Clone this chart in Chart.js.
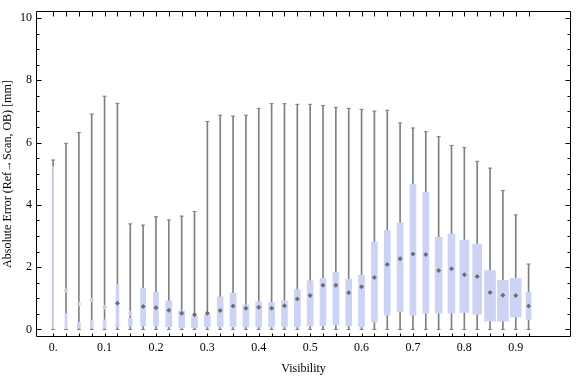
<!DOCTYPE html>
<html>
<head>
<meta charset="utf-8">
<script src="https://cdn.jsdelivr.net/npm/chart.js@4"></script>
<style>
  html, body { margin: 0; padding: 0; background: #fff; }
</style>
</head>
<body>
<canvas id="chart" width="576" height="377"></canvas>
<script>
// box-whisker data per visibility bin
const visibility = [0, 0.025, 0.05, 0.075, 0.1, 0.125, 0.15, 0.175, 0.2, 0.225,
  0.25, 0.275, 0.3, 0.325, 0.35, 0.375, 0.4, 0.425, 0.45, 0.475,
  0.5, 0.525, 0.55, 0.575, 0.6, 0.625, 0.65, 0.675, 0.7, 0.725,
  0.75, 0.775, 0.8, 0.825, 0.85, 0.875, 0.9, 0.925];
const minErr = [0, 0, 0, 0, 0, 0, 0, 0, 0, 0,
  0, 0, 0, 0, 0, 0, 0, 0, 0, 0,
  0, 0, 0, 0, 0, 0, 0, 0, 0, 0,
  0, 0, 0, 0, 0, 0, 0, 0];
const q1Err = [0, 0.02, 0.04, 0.04, 0.04, 0.08, 0.11, 0.11, 0.11, 0.08,
  0.05, 0.06, 0.08, 0.08, 0.08, 0.08, 0.08, 0.08, 0.08, 0.08,
  0.11, 0.12, 0.15, 0.12, 0.08, 0.24, 0.46, 0.57, 0.46, 0.52,
  0.52, 0.52, 0.55, 0.49, 0.27, 0.27, 0.40, 0.31];
const medianErr = [null, 1.25, 0.82, 0.94, 0.71, 0.84, 0.52, 0.74, 0.70, 0.62,
  0.52, 0.47, 0.52, 0.61, 0.75, 0.68, 0.71, 0.68, 0.76, 0.98,
  1.09, 1.42, 1.42, 1.18, 1.37, 1.67, 2.09, 2.27, 2.42, 2.41,
  1.89, 1.95, 1.76, 1.70, 1.19, 1.10, 1.09, 0.75];
const q3Err = [5.23, 0.51, 0.23, 0.29, 0.31, 1.44, 0.36, 1.33, 1.20, 0.92,
  0.61, 0.42, 0.48, 1.05, 1.17, 0.79, 0.89, 0.86, 0.92, 1.28,
  1.56, 1.64, 1.83, 1.61, 1.74, 2.81, 3.18, 3.43, 4.66, 4.40,
  2.96, 3.06, 2.87, 2.74, 1.89, 1.58, 1.64, 1.20];
const maxErr = [5.44, 5.98, 6.32, 6.92, 7.49, 7.26, 3.39, 3.35, 3.62, 3.52,
  3.64, 3.79, 6.68, 6.88, 6.85, 6.88, 7.10, 7.25, 7.25, 7.23,
  7.23, 7.19, 7.13, 7.10, 7.07, 7.01, 7.04, 6.63, 6.47, 6.35,
  6.19, 5.91, 5.84, 5.40, 5.18, 4.46, 3.68, 2.10];
const xTickLabels = [0, 0.1, 0.2, 0.3, 0.4, 0.5, 0.6, 0.7, 0.8, 0.9];
const yTickLabels = [0, 2, 4, 6, 8, 10];

// styling
const boxColor = 'rgb(204,211,245)';
const whiskerColor = '#808080';
const boxWidthPx = [1, 2, 3, 3, 3, 3, 4, 5, 5, 6, 6, 6,
  6, 6, 6, 6, 6, 6, 6, 6, 6, 6, 6, 6, 6, 6, 6, 6, 6, 6,
  7, 7, 9, 9, 11, 11, 11, 5];
const faintMedians = [1, 2, 3, 4, 6];
const serif = 'Liberation Serif';

const boxSets = [...new Set(boxWidthPx)].map(w => ({
  type: 'bar',
  data: visibility.map((v, i) => boxWidthPx[i] === w ? {x: v, y: [q1Err[i], q3Err[i]]} : null).filter(d => d),
  barThickness: w,
  grouped: false,
  backgroundColor: boxColor,
  borderWidth: 0
}));

const datasets = [
  {
    type: 'line',
    data: visibility.map((v, i) => ({x: v, y: medianErr[i]})),
    showLine: false,
    pointStyle: 'rectRot',
    pointRadius: 2.5,
    pointBorderWidth: 0,
    pointBackgroundColor: c => faintMedians.includes(c.dataIndex) ? '#cfcfcf' : '#6e6e6e'
  },
  {
    type: 'line',
    data: visibility.map((v, i) => ({x: v, y: maxErr[i]})).concat(visibility.map((v, i) => ({x: v, y: minErr[i]}))),
    showLine: false,
    pointStyle: 'line',
    pointRadius: 2,
    pointBorderWidth: 1,
    pointBorderColor: whiskerColor
  },
  ...boxSets,
  {
    type: 'bar',
    data: visibility.map((v, i) => ({x: v, y: [minErr[i], maxErr[i]]})),
    barThickness: 1,
    grouped: false,
    backgroundColor: whiskerColor,
    borderWidth: 0
  }
];

// frame with inward ticks like the original plot
const frameTicks = {
  id: 'frameTicks',
  afterDatasetsDraw(chart) {
    const {ctx, chartArea: a, scales: {x, y}} = chart;
    const L = Math.round(a.left) + 0.5, R = Math.round(a.right) - 0.5;
    const T = Math.round(a.top) + 0.5, B = Math.round(a.bottom) - 0.5;
    ctx.save();
    ctx.strokeStyle = '#000';
    ctx.lineWidth = 1;
    ctx.beginPath();
    ctx.rect(L, T, R - L, B - T);
    for (const v of visibility) {
      const px = Math.round(x.getPixelForValue(v)) + 0.5;
      ctx.moveTo(px, B); ctx.lineTo(px, B - 3);
      ctx.moveTo(px, T); ctx.lineTo(px, T + 5);
    }
    for (let k = 0; k <= 20; k++) {
      const py = Math.round(y.getPixelForValue(k / 2)) + 0.5;
      const len = k % 4 === 0 ? 5 : 3;
      ctx.moveTo(L, py); ctx.lineTo(L + len, py);
      ctx.moveTo(R, py); ctx.lineTo(R - len, py);
    }
    ctx.stroke();
    ctx.restore();
  }
};

new Chart(document.getElementById('chart'), {
  type: 'bar',
  data: {datasets: datasets},
  options: {
    responsive: false,
    animation: false,
    events: [],
    layout: {padding: {top: 4, right: 1, left: 0, bottom: 0}},
    plugins: {legend: {display: false}, tooltip: {enabled: false}},
    scales: {
      x: {
        type: 'linear',
        offset: false,
        min: -0.0334,
        max: 1.0075,
        grid: {display: false, drawTicks: false},
        border: {display: false},
        afterBuildTicks: s => { s.ticks = xTickLabels.map(v => ({value: v})); },
        afterFit: s => { s.height = 40; },
        ticks: {
          autoSkip: false,
          maxRotation: 0,
          padding: 4,
          color: '#000',
          font: {family: serif, size: 12},
          callback: v => v === 0 ? '0.' : v.toFixed(1)
        },
        title: {display: true, text: 'Visibility', color: '#000', font: {family: serif, size: 12}, padding: {top: 0, bottom: 1}}
      },
      y: {
        min: -0.242,
        max: 10.22,
        grid: {display: false, drawTicks: false},
        border: {display: false},
        afterBuildTicks: s => { s.ticks = yTickLabels.map(v => ({value: v})); },
        afterFit: s => { s.width = 36; },
        ticks: {
          padding: 4,
          color: '#000',
          font: {family: serif, size: 12},
          callback: v => String(v)
        },
        title: {display: true, text: 'Absolute Error (Ref\u2192Scan, OB) [mm]', color: '#000', font: {family: serif, size: 12}, padding: {top: 1, bottom: 0}}
      }
    }
  },
  plugins: [frameTicks]
});
</script>
</body>
</html>
